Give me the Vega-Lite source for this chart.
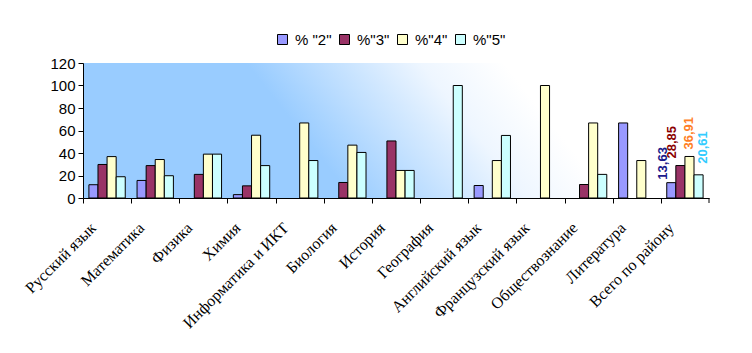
{
  "$schema": "https://vega.github.io/schema/vega-lite/v6.json",
  "width": 626,
  "height": 135,
  "autosize": "none",
  "padding": {"left": 83, "top": 63, "right": 43, "bottom": 155},
  "background": "white",
  "config": {
    "locale": {"number": {"decimal": ",", "thousands": " ", "grouping": [3], "currency": ["", ""]}},
    "view": {
      "stroke": null,
      "fill": {
        "gradient": "linear", "x1": 0, "y1": 0.585, "x2": 1, "y2": 0.415,
        "stops": [
          {"offset": 0, "color": "#99CCFF"},
          {"offset": 0.35, "color": "#99CCFF"},
          {"offset": 0.62, "color": "#EEF6FF"},
          {"offset": 0.75, "color": "#FFFFFF"},
          {"offset": 1, "color": "#FFFFFF"}
        ]
      }
    },
    "axis": {"domainColor": "black", "tickColor": "black", "labelColor": "black", "grid": false, "tickSize": 5}
  },
  "data": {
    "values": [
      {"subject": "Русский язык", "series": "% \"2\"", "value": 11.8},
      {"subject": "Русский язык", "series": "%\"3\"", "value": 29.8},
      {"subject": "Русский язык", "series": "%\"4\"", "value": 36.8},
      {"subject": "Русский язык", "series": "%\"5\"", "value": 18.9},
      {"subject": "Математика", "series": "% \"2\"", "value": 15.6},
      {"subject": "Математика", "series": "%\"3\"", "value": 28.8},
      {"subject": "Математика", "series": "%\"4\"", "value": 34.2},
      {"subject": "Математика", "series": "%\"5\"", "value": 19.8},
      {"subject": "Физика", "series": "%\"3\"", "value": 21},
      {"subject": "Физика", "series": "%\"4\"", "value": 39},
      {"subject": "Физика", "series": "%\"5\"", "value": 39},
      {"subject": "Химия", "series": "% \"2\"", "value": 3},
      {"subject": "Химия", "series": "%\"3\"", "value": 10.8},
      {"subject": "Химия", "series": "%\"4\"", "value": 55.8},
      {"subject": "Химия", "series": "%\"5\"", "value": 28.8},
      {"subject": "Информатика и ИКТ", "series": "%\"4\"", "value": 66.7},
      {"subject": "Информатика и ИКТ", "series": "%\"5\"", "value": 33.3},
      {"subject": "Биология", "series": "%\"3\"", "value": 13.8},
      {"subject": "Биология", "series": "%\"4\"", "value": 47},
      {"subject": "Биология", "series": "%\"5\"", "value": 40.5},
      {"subject": "История", "series": "%\"3\"", "value": 50.7},
      {"subject": "История", "series": "%\"4\"", "value": 24.5},
      {"subject": "История", "series": "%\"5\"", "value": 24.5},
      {"subject": "География", "series": "%\"5\"", "value": 100},
      {"subject": "Английский язык", "series": "% \"2\"", "value": 11.1},
      {"subject": "Английский язык", "series": "%\"4\"", "value": 33.3},
      {"subject": "Английский язык", "series": "%\"5\"", "value": 55.6},
      {"subject": "Французский язык", "series": "%\"4\"", "value": 100},
      {"subject": "Обществознание", "series": "%\"3\"", "value": 12},
      {"subject": "Обществознание", "series": "%\"4\"", "value": 66.7},
      {"subject": "Обществознание", "series": "%\"5\"", "value": 21},
      {"subject": "Литература", "series": "% \"2\"", "value": 66.7},
      {"subject": "Литература", "series": "%\"4\"", "value": 33.3},
      {"subject": "Всего по району", "series": "% \"2\"", "value": 13.63},
      {"subject": "Всего по району", "series": "%\"3\"", "value": 28.85},
      {"subject": "Всего по району", "series": "%\"4\"", "value": 36.91},
      {"subject": "Всего по району", "series": "%\"5\"", "value": 20.61}
    ]
  },
  "encoding": {
    "x": {
      "field": "subject", "type": "nominal",
      "sort": ["Русский язык", "Математика", "Физика", "Химия", "Информатика и ИКТ", "Биология", "История", "География", "Английский язык", "Французский язык", "Обществознание", "Литература", "Всего по району"],
      "scale": {"paddingInner": 0, "paddingOuter": 0},
      "axis": {
        "title": null, "labelAngle": -45, "labelAlign": "right", "labelBaseline": "middle",
        "labelFont": "Liberation Serif", "labelFontSize": 16, "labelPadding": 22, "labelOffset": 10,
        "tickOffset": -24.08
      }
    },
    "y": {
      "field": "value", "type": "quantitative",
      "scale": {"domain": [0, 120]},
      "axis": {"title": null, "values": [0, 20, 40, 60, 80, 100, 120], "labelFont": "Liberation Sans", "labelFontSize": 15, "labelPadding": 3}
    }
  },
  "layer": [
    {
      "mark": {"type": "bar", "stroke": "black", "strokeWidth": 1},
      "encoding": {
        "xOffset": {
          "field": "series", "type": "nominal",
          "scale": {"domain": ["% \"2\"", "%\"3\"", "%\"4\"", "%\"5\""], "paddingInner": 0, "paddingOuter": 0.65}
        },
        "color": {
          "field": "series", "type": "nominal",
          "scale": {"domain": ["% \"2\"", "%\"3\"", "%\"4\"", "%\"5\""], "range": ["#9999FF", "#993366", "#FFFFCC", "#CCFFFF"]},
          "legend": {
            "title": null, "orient": "none", "legendX": 192, "legendY": -31, "direction": "horizontal", "gridAlign": "none",
            "symbolType": "square", "symbolSize": 100, "symbolStrokeColor": "black", "symbolStrokeWidth": 1,
            "labelFont": "Liberation Sans", "labelFontSize": 15, "labelColor": "black", "labelOffset": 5, "columnPadding": 5
          }
        }
      }
    },
    {
      "transform": [{"filter": "datum.subject === 'Всего по району' && datum.series === '% \"2\"'"}],
      "mark": {"type": "rule", "color": "black", "strokeWidth": 1},
      "encoding": {
        "x": {
          "field": "subject", "type": "nominal", "bandPosition": 1,
          "sort": ["Русский язык", "Математика", "Физика", "Химия", "Информатика и ИКТ", "Биология", "История", "География", "Английский язык", "Французский язык", "Обществознание", "Литература", "Всего по району"]
        },
        "y": {"datum": 0},
        "y2": {"datum": -4.44}
      }
    },
    {
      "transform": [{"filter": "datum.subject === 'Всего по району' && datum.series === '% \"2\"'"}],
      "mark": {"type": "text", "angle": 270, "align": "left", "baseline": "middle", "dx": 3, "dy": -8, "font": "Liberation Sans", "fontWeight": "bold", "fontSize": 13, "color": "#1A1A8C"},
      "encoding": {
        "xOffset": {"field": "series", "type": "nominal"},
        "text": {"field": "value", "type": "quantitative", "format": ".2f"}
      }
    },
    {
      "transform": [{"filter": "datum.subject === 'Всего по району' && datum.series === '%\"3\"'"}],
      "mark": {"type": "text", "angle": 270, "align": "left", "baseline": "middle", "dx": 7, "dy": -8, "font": "Liberation Sans", "fontWeight": "bold", "fontSize": 13, "color": "#8B0000"},
      "encoding": {
        "xOffset": {"field": "series", "type": "nominal"},
        "text": {"field": "value", "type": "quantitative", "format": ".2f"}
      }
    },
    {
      "transform": [{"filter": "datum.subject === 'Всего по району' && datum.series === '%\"4\"'"}],
      "mark": {"type": "text", "angle": 270, "align": "left", "baseline": "middle", "dx": 7, "dy": 0, "font": "Liberation Sans", "fontWeight": "bold", "fontSize": 13, "color": "#FF7F27"},
      "encoding": {
        "xOffset": {"field": "series", "type": "nominal"},
        "text": {"field": "value", "type": "quantitative", "format": ".2f"}
      }
    },
    {
      "transform": [{"filter": "datum.subject === 'Всего по району' && datum.series === '%\"5\"'"}],
      "mark": {"type": "text", "angle": 270, "align": "left", "baseline": "middle", "dx": 11, "dy": 4.5, "font": "Liberation Sans", "fontWeight": "bold", "fontSize": 13, "color": "#33CCFF"},
      "encoding": {
        "xOffset": {"field": "series", "type": "nominal"},
        "text": {"field": "value", "type": "quantitative", "format": ".2f"}
      }
    }
  ]
}
